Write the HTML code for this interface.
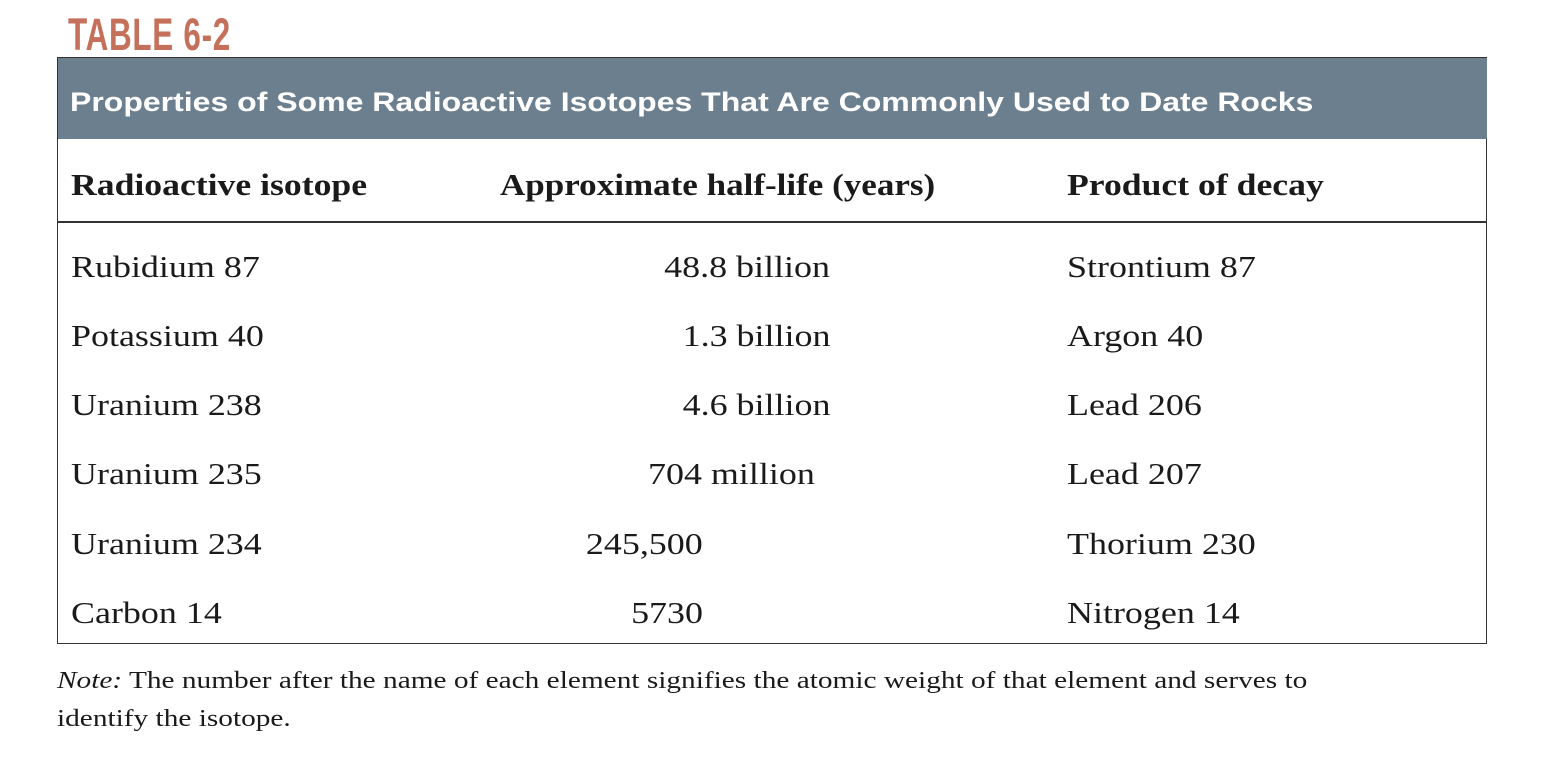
<!DOCTYPE html>
<html><head><meta charset="utf-8"><style>
body{margin:0;width:1552px;height:774px;background:#fff;position:relative;overflow:hidden;font-family:"Liberation Serif",serif;color:#1a1a1a}
.abs{position:absolute;white-space:nowrap}
#title{left:68px;top:10px;font-family:"Liberation Sans Narrow","Liberation Sans",sans-serif;font-weight:bold;font-size:43px;color:#c4705a;transform:scaleX(0.73) scaleY(1.05);transform-origin:left top;letter-spacing:1px}
#box{left:57px;top:57px;width:1430px;height:587px;border:1.5px solid #333;box-sizing:border-box}
#band{left:58px;top:58px;width:1429px;height:81px;background:#6c7f8f}
#bandtext{left:70px;top:87px;font-family:"Liberation Sans",sans-serif;font-weight:bold;font-size:27px;color:#fff;transform:scaleX(1.185);transform-origin:left top}
.h{top:167px;font-size:31px;font-weight:bold;transform:scaleX(1.15);transform-origin:left top}
#rule{left:58px;top:221px;width:1429px;height:1.5px;background:#333}
.c{font-size:31px;transform:scaleX(1.16);transform-origin:left top}
.r{transform-origin:right top}
.note{left:57px;font-size:24px;transform:scaleX(1.222);transform-origin:left top}
</style></head><body>
<div id="title" class="abs">TABLE 6-2</div>
<div id="box" class="abs"></div>
<div id="band" class="abs"></div>
<div id="bandtext" class="abs">Properties of Some Radioactive Isotopes That Are Commonly Used to Date Rocks</div>
<div class="abs h" style="left:71px">Radioactive isotope</div>
<div class="abs h" style="left:500px;transform:scaleX(1.13)">Approximate half-life (years)</div>
<div class="abs h" style="left:1067px">Product of decay</div>
<div id="rule" class="abs"></div>

<div class="abs c" style="left:71px;top:249px">Rubidium 87</div>
<div class="abs c r" style="right:722px;top:249px">48.8 billion</div>
<div class="abs c" style="left:1067px;top:249px">Strontium 87</div>

<div class="abs c" style="left:71px;top:318px">Potassium 40</div>
<div class="abs c r" style="right:722px;top:318px">1.3 billion</div>
<div class="abs c" style="left:1067px;top:318px">Argon 40</div>

<div class="abs c" style="left:71px;top:387px">Uranium 238</div>
<div class="abs c r" style="right:722px;top:387px">4.6 billion</div>
<div class="abs c" style="left:1067px;top:387px">Lead 206</div>

<div class="abs c" style="left:71px;top:456px">Uranium 235</div>
<div class="abs c r" style="right:737px;top:456px">704 million</div>
<div class="abs c" style="left:1067px;top:456px">Lead 207</div>

<div class="abs c" style="left:71px;top:526px">Uranium 234</div>
<div class="abs c r" style="right:849px;top:526px">245,500</div>
<div class="abs c" style="left:1067px;top:526px">Thorium 230</div>

<div class="abs c" style="left:71px;top:595px">Carbon 14</div>
<div class="abs c r" style="right:849px;top:595px">5730</div>
<div class="abs c" style="left:1067px;top:595px">Nitrogen 14</div>

<div class="abs note" style="top:668px"><i>Note:</i> The number after the name of each element signifies the atomic weight of that element and serves to</div>
<div class="abs note" style="top:706px">identify the isotope.</div>
</body></html>
